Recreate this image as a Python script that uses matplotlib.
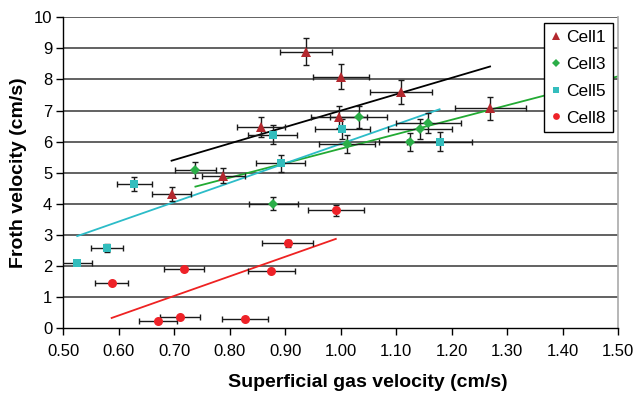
import numpy as np
import matplotlib
matplotlib.use('Agg')
import matplotlib.pyplot as plt
from matplotlib.lines import Line2D

plt.rcParams['font.family'] = ['Liberation Sans', 'DejaVu Sans']

# Cell1
c1_x = [0.937, 1.000, 1.108, 1.269, 0.997, 0.856, 0.788, 0.695]
c1_y = [8.89, 8.09, 7.59, 7.07, 6.80, 6.48, 4.91, 4.31]
c1_xerr = [0.047, 0.050, 0.056, 0.064, 0.050, 0.043, 0.039, 0.035]
c1_yerr = [0.44, 0.41, 0.39, 0.36, 0.35, 0.32, 0.24, 0.23]

# Cell3
c3_x = [0.738, 1.032, 0.878, 1.011, 1.125, 1.143, 1.158]
c3_y = [5.09, 6.80, 4.00, 5.93, 6.00, 6.41, 6.59]
c3_xerr = [0.037, 0.052, 0.044, 0.050, 0.057, 0.058, 0.058]
c3_yerr = [0.27, 0.35, 0.21, 0.29, 0.29, 0.32, 0.32]

# Cell5
c5_x = [0.628, 0.877, 0.892, 1.003, 1.178, 0.578, 0.525]
c5_y = [4.64, 6.22, 5.31, 6.41, 6.00, 2.59, 2.11]
c5_xerr = [0.032, 0.044, 0.044, 0.050, 0.059, 0.029, 0.027]
c5_yerr = [0.23, 0.31, 0.27, 0.32, 0.31, 0.13, 0.09]

# Cell8
c8_x = [0.587, 0.718, 0.904, 0.875, 0.991, 0.710, 0.671, 0.827]
c8_y = [1.47, 1.90, 2.73, 1.84, 3.80, 0.37, 0.22, 0.31]
c8_xerr = [0.030, 0.036, 0.046, 0.043, 0.050, 0.036, 0.034, 0.042]
c8_yerr = [0.04, 0.05, 0.12, 0.04, 0.18, 0.04, 0.04, 0.04]

series = [
    ('Cell1', c1_x, c1_y, c1_xerr, c1_yerr, '^', 7, '#B3282E', 'black', None),
    ('Cell3', c3_x, c3_y, c3_xerr, c3_yerr, 'D', 5, '#2BAE48', '#22AA33', 1.5),
    ('Cell5', c5_x, c5_y, c5_xerr, c5_yerr, 's', 5.5, '#33BDBD', '#2CBCC8', None),
    ('Cell8', c8_x, c8_y, c8_xerr, c8_yerr, 'o', 6.5, '#EE2228', '#EE2222', None),
]

fig = plt.figure(figsize=(6.4, 3.94), dpi=100)
ax = fig.add_axes([0.099, 0.1668, 0.867, 0.7893])

ax.set_xlim(0.5, 1.5)
ax.set_ylim(0, 10)
ax.set_xticks(np.arange(0.5, 1.51, 0.1))
ax.set_xticklabels(['%.2f' % v for v in np.arange(0.5, 1.51, 0.1)])
ax.set_yticks(range(0, 11))

for y in range(1, 11):
    ax.axhline(y, color='#555555', lw=1.3, zorder=1)

handles = []
for name, x, y, xe, ye, mk, ms, col, lcol, xend in series:
    x = np.array(x)
    y = np.array(y)
    # linear trendline like Excel
    k, b = np.polyfit(x, y, 1)
    x1 = x.max() if xend is None else xend
    xx = np.array([x.min(), x1])
    ax.plot(xx, k * xx + b, color=lcol, lw=1.3, zorder=2)
    ax.errorbar(x, y, xerr=xe, yerr=ye, fmt='none', ecolor='#1a1a1a',
                elinewidth=1.0, capsize=2, capthick=1.0, zorder=3)
    ax.plot(x, y, linestyle='none', marker=mk, ms=ms, color=col,
            markeredgewidth=0, zorder=4)
    handles.append(Line2D([], [], linestyle='none', marker=mk, ms=ms * 0.75,
                          color=col, markeredgewidth=0, label=name))

ax.spines['top'].set_visible(False)
ax.spines['right'].set_color('#AAAAAA')
ax.spines['right'].set_linewidth(1.2)
ax.spines['left'].set_linewidth(1.0)
ax.spines['bottom'].set_linewidth(1.0)

ax.tick_params(axis='both', direction='out', length=5, width=1, labelsize=12,
               colors='black', pad=3)
ax.tick_params(axis='x', pad=6)

ax.set_xlabel('Superficial gas velocity (cm/s)', fontsize=14, fontweight='bold')
ax.xaxis.set_label_coords(0.548, -0.148)
ax.set_ylabel('Froth velocity (cm/s)', fontsize=14, fontweight='bold', labelpad=5)

leg = ax.legend(handles=handles, loc='upper right', bbox_to_anchor=(0.99, 0.983),
                borderaxespad=0, fontsize=12.5, frameon=True, fancybox=False,
                edgecolor='black', framealpha=1, handlelength=0.6,
                handletextpad=0.3, labelspacing=0.68, borderpad=0.4)
leg.get_frame().set_linewidth(1.0)
leg.set_zorder(10)

fig.savefig('out.png', dpi=100)
